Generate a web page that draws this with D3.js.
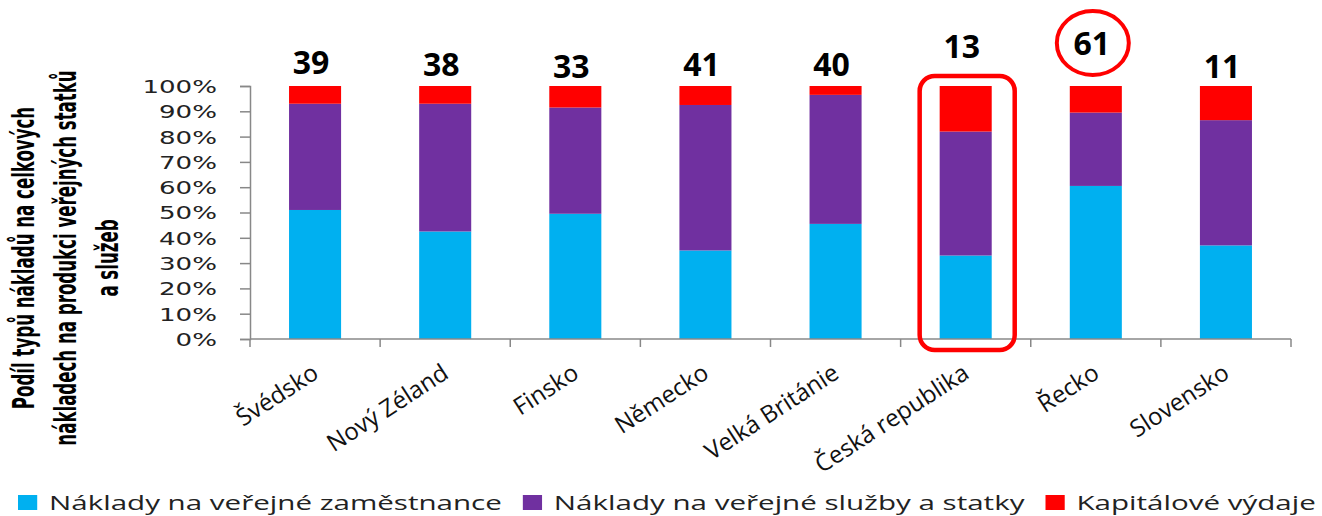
<!DOCTYPE html>
<html>
<head>
<meta charset="utf-8">
<script src="https://cdn.jsdelivr.net/npm/d3@7"></script>
<style>
  body { margin: 0; background: #fff; }
  svg { display: block; }
</style>
</head>
<body>
<svg id="chart"></svg>
<script>
// data
const categories = ['Švédsko', 'Nový Zéland', 'Finsko', 'Německo', 'Velká Británie', 'Česká republika', 'Řecko', 'Slovensko']
const employees = [51, 42.5, 49.5, 35, 45.5, 33, 60.5, 37]
const services = [42, 50.5, 42, 57.5, 51, 49, 29, 49.5]
const capital = [7, 7, 8.5, 7.5, 3.5, 18, 10.5, 13.5]
const topNumbers = [39, 38, 33, 41, 40, 13, 61, 11]
const seriesNames = ['Náklady na veřejné zaměstnance', 'Náklady na veřejné služby a statky', 'Kapitálové výdaje']
const titleLines = ['Podíl typů nákladů na celkových', 'nákladech na produkci veřejných statků', 'a služeb']

// layout
const width = 1322
const height = 516
const colors = ['#00b0f0', '#7030a0', '#ff0000']
const numberBaseline = [74, 76, 78, 76, 76, 58, 55, 78] // the numbers sit at uneven heights
const axisColor = '#888'

const svg = d3.select('#chart').attr('width', width).attr('height', height)

const rows = categories.map((c, i) => ({ cat: c, emp: employees[i], srv: services[i], cap: capital[i] }))
const stack = d3.stack().keys(['emp', 'srv', 'cap'])
const stacked = stack(rows)

const x = d3.scaleBand().domain(categories).range([250, 1291]).paddingInner(0.6).paddingOuter(0.3)
const y = d3.scaleLinear().domain([0, 100]).range([339, 86])

// bars
svg.append('g')
  .selectAll('g')
  .data(stacked)
  .join('g')
  .attr('fill', (d, i) => colors[i])
  .selectAll('rect')
  .data((d) => d)
  .join('rect')
  .attr('x', (d) => x(d.data.cat))
  .attr('y', (d) => y(d[1]))
  .attr('width', x.bandwidth())
  .attr('height', (d) => y(d[0]) - y(d[1]))

// y axis
const yAxis = svg.append('g')
  .attr('transform', 'translate(250,0)')
  .call(d3.axisLeft(y).tickValues(d3.range(0, 101, 10)).tickSize(10).tickFormat((d) => d + '%'))
yAxis.select('.domain').attr('stroke', axisColor).attr('stroke-width', 1.5)
yAxis.selectAll('.tick line').attr('stroke', axisColor).attr('stroke-width', 1.5)
yAxis.selectAll('.tick text')
  .attr('x', 0)
  .attr('dy', '0.36em')
  .attr('transform', 'translate(-33,0) scale(1.45,1)')
  .attr('fill', '#222')
  .style('font-family', 'DejaVu Sans, Verdana, sans-serif')
  .style('font-size', '18px')

// x axis line with ticks between categories
const step = x.step()
const x0 = x.range()[0]
const xAxis = svg.append('g').attr('stroke', axisColor).attr('stroke-width', 1.5)
xAxis.append('line').attr('x1', x0).attr('x2', x.range()[1]).attr('y1', y(0)).attr('y2', y(0))
xAxis.selectAll('line.tk')
  .data(d3.range(categories.length + 1))
  .join('line')
  .attr('class', 'tk')
  .attr('x1', (i) => x0 + i * step)
  .attr('x2', (i) => x0 + i * step)
  .attr('y1', y(0))
  .attr('y2', y(0) + 8)

// category labels
svg.append('g')
  .selectAll('text')
  .data(categories)
  .join('text')
  .attr('transform', (d) => `translate(${x(d) + x.bandwidth() / 2 + 5},377) rotate(-33)`)
  .attr('text-anchor', 'end')
  .attr('fill', '#111')
  .style('font-family', 'Open Sans, sans-serif')
  .style('font-size', '24px')
  .text((d) => d)

// numbers above the bars
svg.append('g')
  .selectAll('text')
  .data(topNumbers)
  .join('text')
  .attr('x', (d, i) => x(categories[i]) + x.bandwidth() / 2 - 4)
  .attr('y', (d, i) => numberBaseline[i])
  .attr('text-anchor', 'middle')
  .attr('fill', '#000')
  .style('font-family', 'Open Sans, sans-serif')
  .style('font-weight', 700)
  .style('font-size', '32px')
  .text((d) => d)

// red highlights: box round Česká republika, ellipse round 61
const czIdx = categories.indexOf('Česká republika')
const grIdx = categories.indexOf('Řecko')
svg.append('rect')
  .attr('x', x(categories[czIdx]) - 20)
  .attr('y', y(100) - 10)
  .attr('width', x.bandwidth() + 43)
  .attr('height', y(0) - y(100) + 21)
  .attr('rx', 15)
  .attr('fill', 'none')
  .attr('stroke', '#ff0000')
  .attr('stroke-width', 4.5)
svg.append('ellipse')
  .attr('cx', x(categories[grIdx]) + x.bandwidth() / 2 - 3)
  .attr('cy', numberBaseline[grIdx] - 12)
  .attr('rx', 36)
  .attr('ry', 32)
  .attr('fill', 'none')
  .attr('stroke', '#ff0000')
  .attr('stroke-width', 4)

// y title, three rotated lines, stretched like the original
const title = svg.append('g')
title.selectAll('text')
  .data(titleLines)
  .join('text')
  .attr('transform', (d, i) => `translate(${34 + i * 42},258) scale(1.35,0.84) rotate(-90)`)
  .attr('text-anchor', 'middle')
  .attr('fill', '#000')
  .style('font-family', 'Liberation Sans Narrow, DejaVu Sans Condensed, sans-serif')
  .style('font-weight', 700)
  .style('font-size', '22px')
  .text((d) => d)

// legend, laid out in natural widths then stretched to the span of the original
const legend = svg.append('g')
const items = legend.selectAll('g')
  .data(seriesNames)
  .join('g')
items.append('rect').attr('width', 13).attr('height', 15).attr('y', -15).attr('fill', (d, i) => colors[i])
items.append('text')
  .attr('x', 21)
  .attr('fill', '#222')
  .style('font-family', 'Open Sans, sans-serif')
  .style('font-size', '20px')
  .text((d) => d)
let pos = 0
items.each(function () {
  d3.select(this).attr('transform', `translate(${pos},0)`)
  pos += 21 + d3.select(this).select('text').node().getComputedTextLength() + 14
})
const natural = pos - 14
legend.attr('transform', `translate(18,510) scale(${(1316 - 18) / natural},1)`)
</script>
</body>
</html>
